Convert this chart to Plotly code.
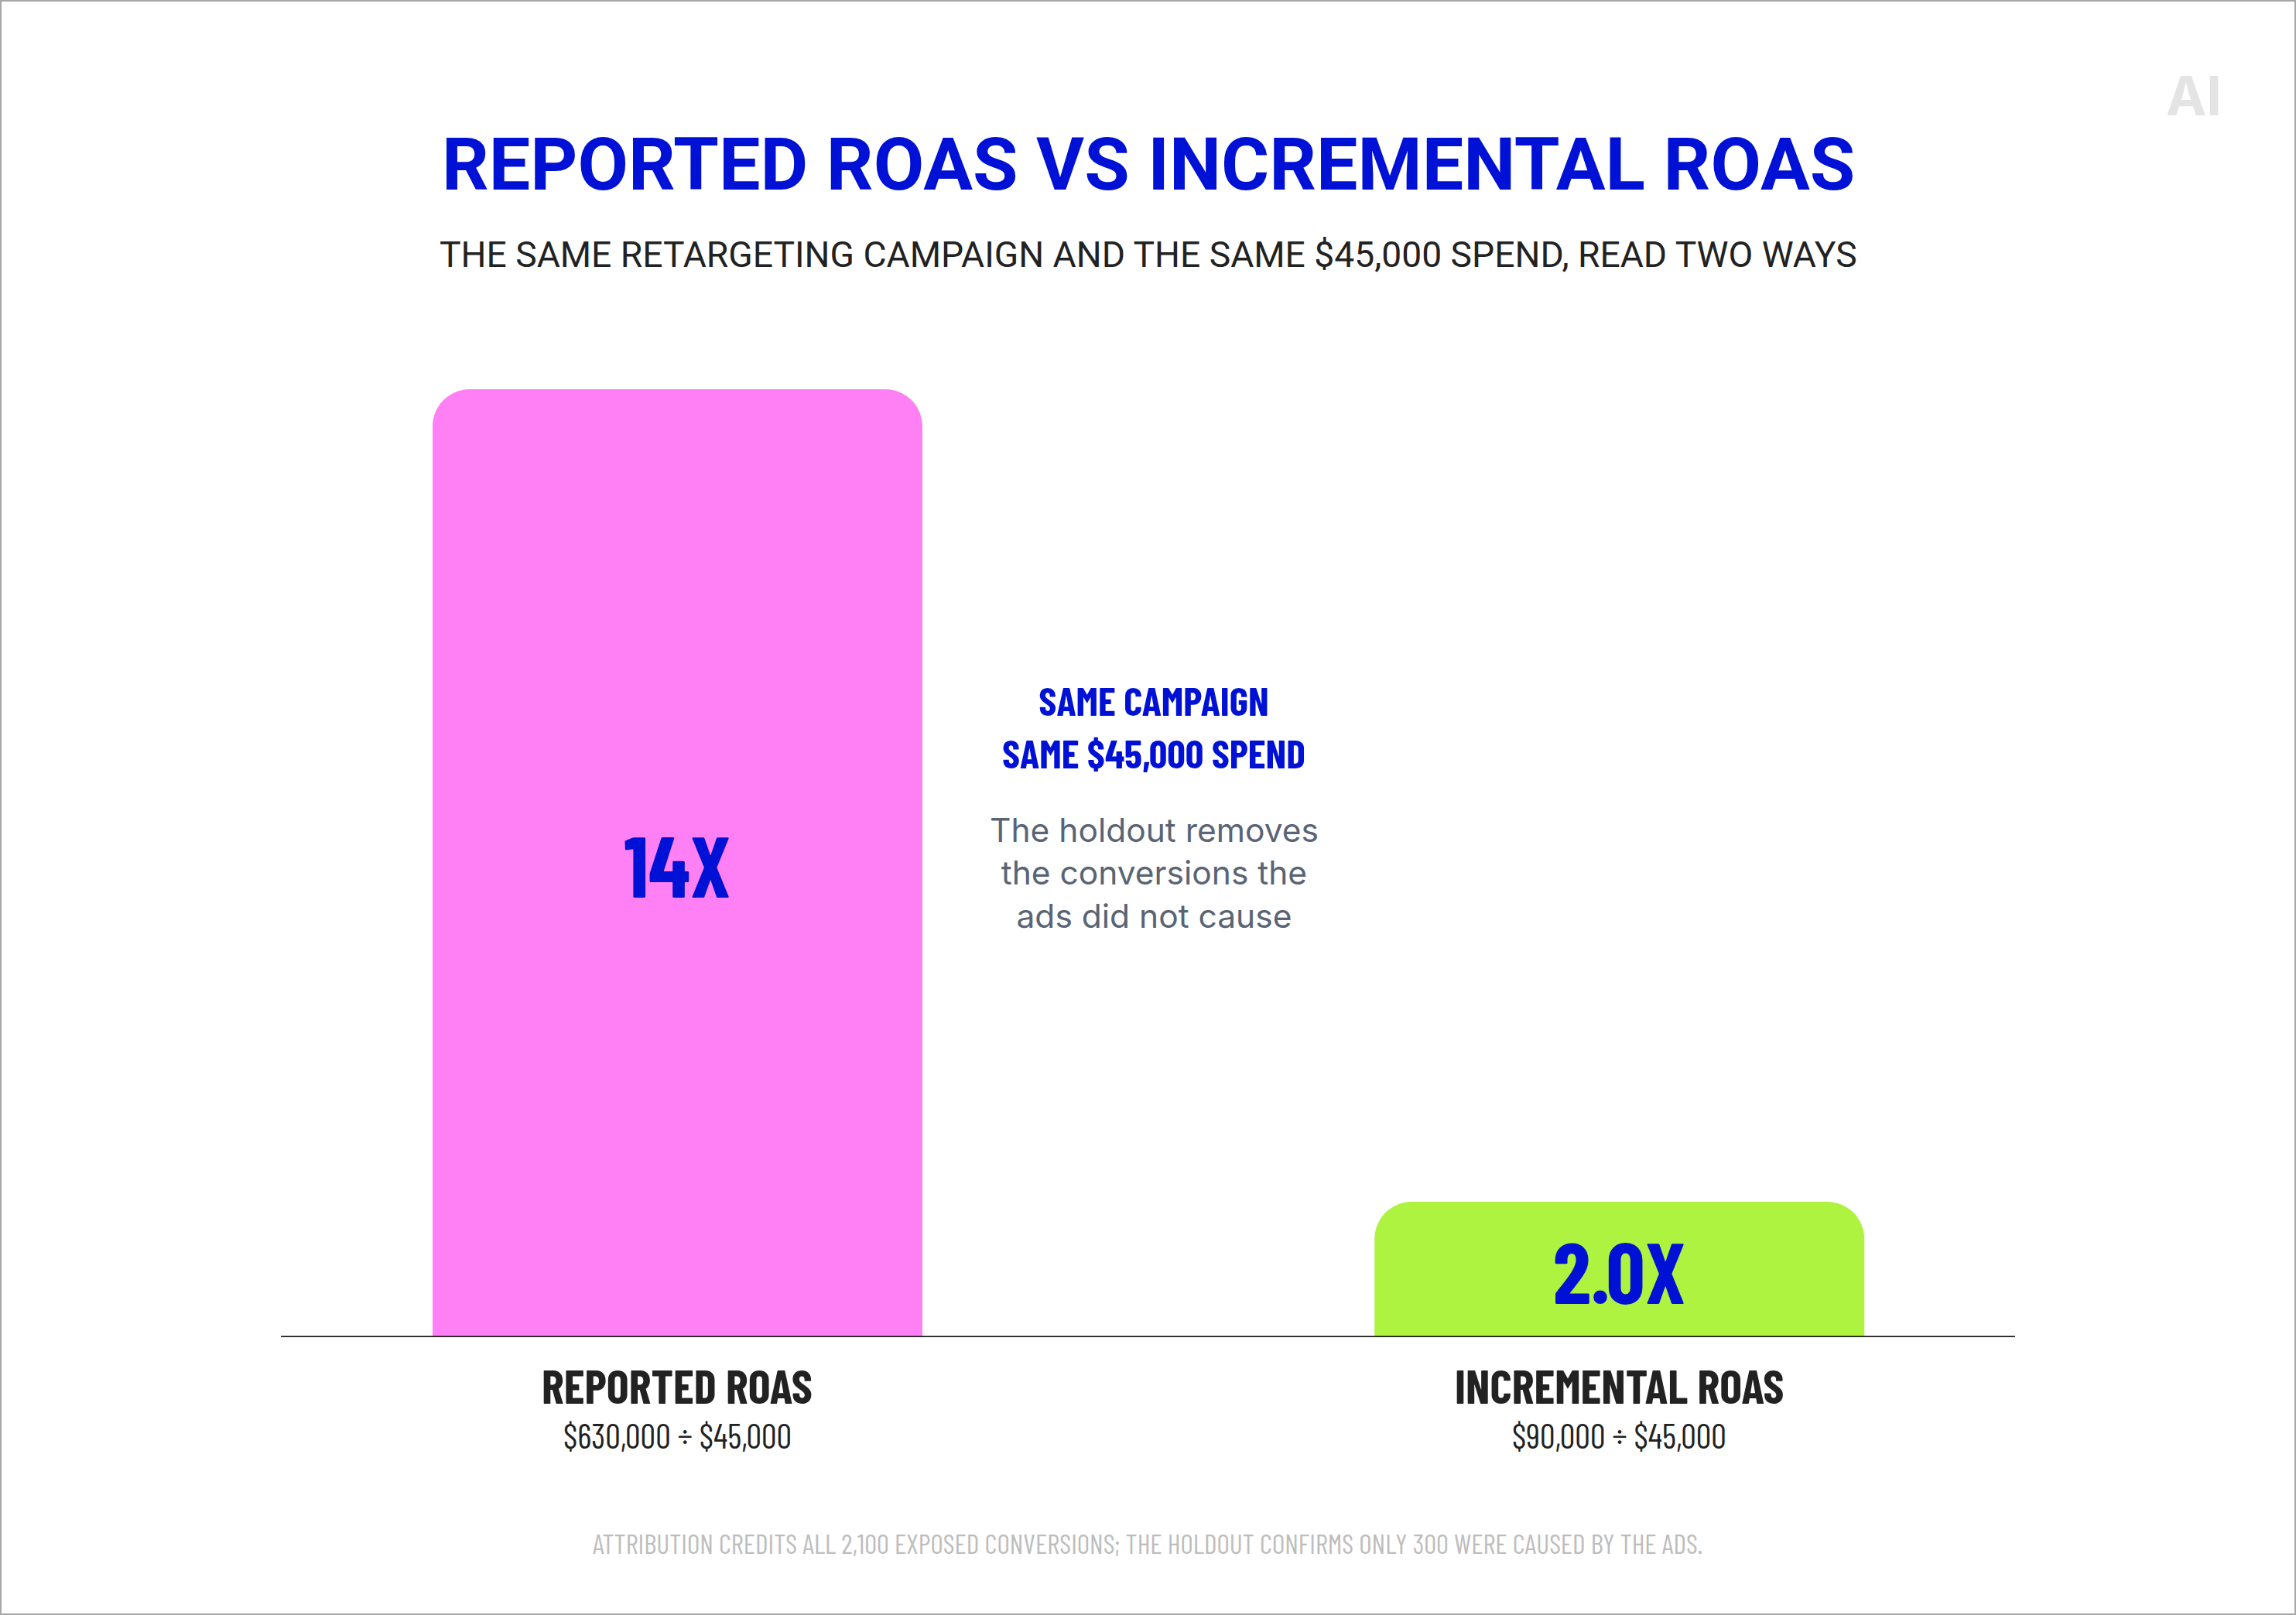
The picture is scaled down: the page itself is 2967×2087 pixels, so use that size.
import plotly.graph_objects as go

# ---- data ----
categories = ["REPORTED ROAS", "INCREMENTAL ROAS"]
roas_values = [14.0, 2.0]
value_labels = ["14X", "2.0X"]
formula_labels = ["$630,000 ÷ $45,000", "$90,000 ÷ $45,000"]
bar_colors = ["#FF80F4", "#AEF33F"]

title_text = "REPORTED ROAS VS INCREMENTAL ROAS"
subtitle_text = "THE SAME RETARGETING CAMPAIGN AND THE SAME $45,000 SPEND, READ TWO WAYS"
callout_head = "SAME CAMPAIGN<br>SAME $45,000 SPEND"
callout_body = "The holdout removes<br>the conversions the<br>ads did not cause"
footer_text = ("ATTRIBUTION CREDITS ALL 2,100 EXPOSED CONVERSIONS; "
               "THE HOLDOUT CONFIRMS ONLY 300 WERE CAUSED BY THE ADS.")
logo_text = "AI"

# ---- style / layout constants ----
W, H = 2967, 2087
L, R, T, B = 363, 2604, 440, 1728
BLUE = "#0011D6"
DARK = "#222222"
COND = "Barlow Condensed, Roboto Condensed, Liberation Sans Narrow, DejaVu Sans Condensed, sans-serif"
WIDE = "Roboto, Inter, Noto Sans, sans-serif"
SANS = "Inter, Roboto, Noto Sans, sans-serif"


def px(x):
    return (x - L) / (R - L)


def py(y):
    return (B - y) / (B - T)


fig = go.Figure()
fig.add_trace(go.Bar(
    x=categories,
    y=roas_values,
    width=0.52,
    marker=dict(color=bar_colors, cornerradius=48, line=dict(width=0)),
    text=value_labels,
    textposition="inside",
    insidetextanchor="middle",
    textangle=0,
    textfont=dict(family=COND, size=111, color=BLUE, weight="bold"),
    hoverinfo="skip",
))

annotations = []


def add_text(text, x, y, size, color, family=COND, bold=False, xref="paper"):
    annotations.append(dict(
        text=text, x=x, y=y, xref=xref, yref="paper",
        xanchor="center", yanchor="middle", showarrow=False,
        font=dict(family=family, size=size, color=color, weight="bold" if bold else "normal"),
        align="center",
    ))


add_text(title_text, px(1484), py(213), 95, BLUE, family=WIDE, bold=True)
add_text(subtitle_text, px(1484), py(329), 46.2, DARK, family=WIDE)
add_text(callout_head, px(1491), py(938), 52, BLUE, bold=True)
add_text(callout_body, px(1491), py(1128), 42.5, "#5A6474", family=SANS)
for i, cat in enumerate(categories):
    add_text(cat, cat, py(1790), 61, DARK, bold=True, xref="x")
    add_text(formula_labels[i], cat, py(1854), 44, DARK, xref="x")
add_text(footer_text, px(1483), py(1993), 35.7, "#BDBDBD")
add_text(logo_text, px(2835), py(124), 70, "#E4E4E4", family=SANS, bold=True)

shapes = [
    dict(type="line", xref="paper", yref="y", x0=0, x1=1, y0=0, y1=0,
         line=dict(color="#1C1C1C", width=3.5), layer="above"),
    dict(type="rect", xref="paper", yref="paper",
         x0=px(1), x1=px(W - 1), y0=py(1), y1=py(H - 1),
         line=dict(color="#A8A8A8", width=2), layer="above"),
]

fig.update_layout(
    width=W, height=H,
    margin=dict(l=L, r=W - R, t=T, b=H - B, pad=0),
    paper_bgcolor="white", plot_bgcolor="white",
    showlegend=False, hovermode=False,
    xaxis=dict(type="category", range=[-0.421, 1.42], showticklabels=False,
               showgrid=False, zeroline=False, showline=False, fixedrange=True),
    yaxis=dict(range=[0, 14.72], visible=False, showgrid=False, zeroline=False, fixedrange=True),
    annotations=annotations,
    shapes=shapes,
    uniformtext=dict(mode=False),
)

fig.write_html("out.html", config={"displayModeBar": False},
               post_script="document.body.style.margin='0';document.body.style.overflow='hidden';")
